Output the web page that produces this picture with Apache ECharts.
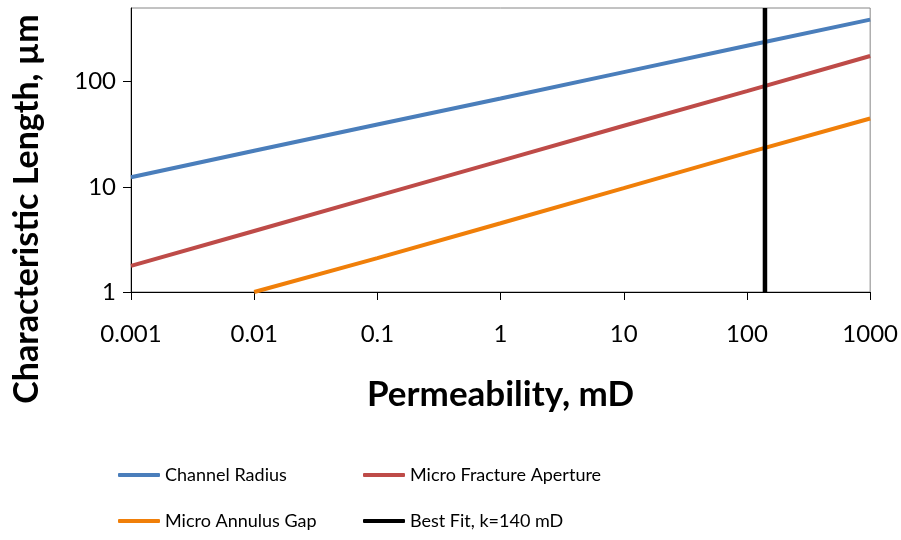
<!DOCTYPE html>
<html>
<head>
<meta charset="utf-8">
<script src="https://cdn.jsdelivr.net/npm/echarts@6/dist/echarts.min.js"></script>
<style>html,body{margin:0;padding:0;background:#fff;}#c{width:901px;height:540px;}</style>
</head>
<body>
<div id="c"></div>
<script>
// Data
const permeability = [0.001, 0.01, 0.1, 1, 10, 100, 1000];
const channelRadius = [12.3, 22, 39, 69, 123, 219, 388];
const fracturePermeability = [0.001, 0.01, 0.1, 1, 10, 100, 1000];
const fractureAperture = [1.77, 3.8, 8.2, 17.6, 38, 81, 175];
const annulusPermeability = [0.01, 0.1, 1, 10, 100, 1000];
const annulusGap = [1.0, 2.1, 4.5, 9.7, 21, 44.5];
const bestFitK = [140, 140];
const bestFitY = [1, 500];
const xTickLabels = ['0.001', '0.01', '0.1', '1', '10', '100', '1000'];
const xTickValues = [0.001, 0.01, 0.1, 1, 10, 100, 1000];
const yTickLabels = ['1', '10', '100'];
const yTickValues = [1, 10, 100];
const seriesNames = ['Channel Radius', 'Micro Fracture Aperture', 'Micro Annulus Gap', 'Best Fit, k=140 mD'];
const xTitle = 'Permeability, mD';
const yTitle = 'Characteristic Length, µm';

const colors = ['#4A7EBB', '#BE4B48', '#F07F09', '#000000'];
const FONT = 'Lato';

function pairs(xs, ys) { return xs.map((x, i) => [x, ys[i]]); }
function labelFor(values, labels) {
  return function (v) {
    for (let i = 0; i < values.length; i++) {
      if (Math.abs(Math.log10(v) - Math.log10(values[i])) < 1e-6) return labels[i];
    }
    return '';
  };
}

const chart = echarts.init(document.getElementById('c'), null, { renderer: 'canvas' });

const legendPos = [
  { name: seriesNames[0], left: 118, top: 466 },
  { name: seriesNames[1], left: 363, top: 466 },
  { name: seriesNames[2], left: 118, top: 512 },
  { name: seriesNames[3], left: 363, top: 512 }
];

chart.setOption({
  animation: false,
  backgroundColor: '#ffffff',
  grid: {
    left: 131, right: 30, top: 8, bottom: 248,
    show: true, borderColor: '#868686', borderWidth: 1, backgroundColor: 'transparent',
    containLabel: false
  },
  legend: legendPos.map(p => ({
    data: [p.name],
    left: p.left, top: p.top, padding: 0,
    icon: 'roundRect', itemWidth: 42, itemHeight: 4,
    textStyle: { fontFamily: FONT, fontSize: 18, color: '#000' },
    selectedMode: false
  })),
  graphic: [{
    type: 'text',
    x: 27, y: 209,
    rotation: Math.PI / 2,
    style: {
      text: yTitle,
      fontFamily: FONT, fontSize: 34, fontWeight: 'bold', fill: '#000',
      align: 'center', verticalAlign: 'middle'
    }
  }],
  xAxis: {
    type: 'log', logBase: 10, min: 0.001, max: 1000,
    name: xTitle, nameLocation: 'middle', nameGap: 85,
    nameTextStyle: { fontFamily: FONT, fontSize: 35, fontWeight: 'bold', color: '#000' },
    axisLine: { show: true, lineStyle: { color: '#000', width: 1 } },
    axisTick: { show: true, length: 8, inside: false, lineStyle: { color: '#000' }, customValues: xTickValues },
    minorTick: { show: false },
    splitLine: { show: false },
    axisLabel: { fontFamily: FONT, fontSize: 24, color: '#000', margin: 30, customValues: xTickValues, formatter: labelFor(xTickValues, xTickLabels) }
  },
  yAxis: {
    type: 'log', logBase: 10, min: 1, max: 500,
    axisLine: { show: true, lineStyle: { color: '#000', width: 1 } },
    axisTick: { show: true, length: 8, inside: false, lineStyle: { color: '#000' }, customValues: yTickValues },
    minorTick: { show: false },
    splitLine: { show: false },
    axisLabel: { fontFamily: FONT, fontSize: 24, color: '#000', margin: 15, customValues: yTickValues, formatter: labelFor(yTickValues, yTickLabels) }
  },
  series: [
    { name: seriesNames[0], type: 'line', data: pairs(permeability, channelRadius), showSymbol: false, symbol: 'none', lineStyle: { width: 4, color: colors[0] }, itemStyle: { color: colors[0] }, z: 2 },
    { name: seriesNames[1], type: 'line', data: pairs(fracturePermeability, fractureAperture), showSymbol: false, symbol: 'none', lineStyle: { width: 4, color: colors[1] }, itemStyle: { color: colors[1] }, z: 2 },
    { name: seriesNames[2], type: 'line', data: pairs(annulusPermeability, annulusGap), showSymbol: false, symbol: 'none', lineStyle: { width: 4, color: colors[2] }, itemStyle: { color: colors[2] }, z: 2 },
    { name: seriesNames[3], type: 'line', data: pairs(bestFitK, bestFitY), showSymbol: false, symbol: 'none', lineStyle: { width: 4.5, color: colors[3] }, itemStyle: { color: colors[3] }, z: 3 }
  ]
});
</script>
</body>
</html>
